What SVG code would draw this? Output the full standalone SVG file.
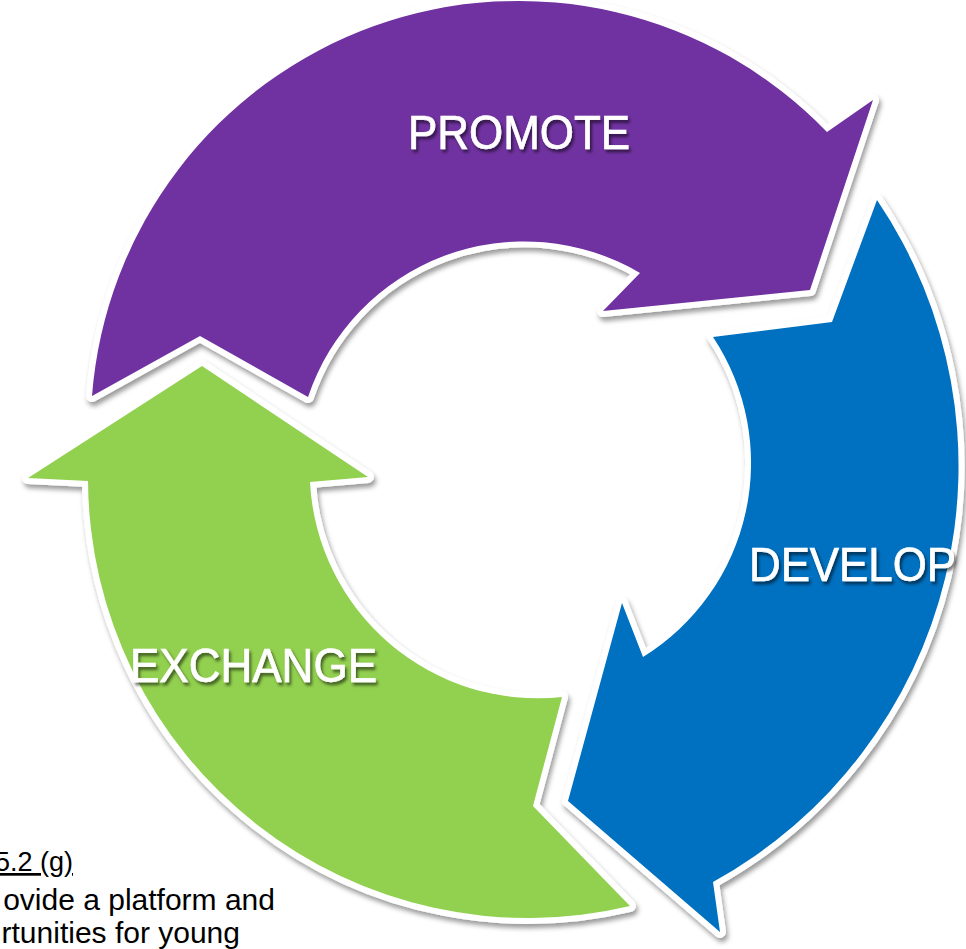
<svg xmlns="http://www.w3.org/2000/svg" width="966" height="949" viewBox="0 0 966 949">
<defs>
<filter id="sh" x="-10%" y="-10%" width="120%" height="120%">
<feDropShadow dx="2" dy="4" stdDeviation="2.5" flood-color="#000" flood-opacity="0.4"/>
</filter>
<filter id="tsh" x="-10%" y="-20%" width="120%" height="140%">
<feDropShadow dx="2" dy="3" stdDeviation="1.8" flood-color="#000" flood-opacity="0.55"/>
</filter>
<style>
.arrow{stroke:#fff;stroke-width:12;stroke-linejoin:round;paint-order:stroke;filter:url(#sh)}
.lbl{font-family:"Liberation Sans",Arial,sans-serif;font-size:49px;fill:#fff;stroke:#fff;stroke-width:0.7;filter:url(#tsh)}
.body{font-family:"Liberation Sans",Arial,sans-serif;fill:#000}
</style>
</defs>
<rect width="966" height="949" fill="#fff"/>
<g id="promote">
<path class="arrow" fill="#7030A0" d="M92,396 A428,428 0 0 1 827,132 L873,100 L810,290 L603,311 L640,273 A228,228 0 0 0 308,397 L200,336 Z"/>
<text class="lbl" x="408" y="149" textLength="222" lengthAdjust="spacingAndGlyphs">PROMOTE</text>
</g>
<g id="develop">
<path class="arrow" fill="#0070C0" d="M568,801 L622,603 L643,657 A228,228 0 0 0 713,337 L832,322 L877,200 A475,475 0 0 1 713,882 L720,932 Z"/>
<text class="lbl" x="749" y="581" textLength="207" lengthAdjust="spacingAndGlyphs">DEVELOP</text>
</g>
<g id="exchange">
<path class="arrow" fill="#92D050" d="M202,366 L368,477 L310,482 A228,228 0 0 0 562,697 L533,806 L630,906 A440,440 0 0 1 88,481 L28,478 Z"/>
<text class="lbl" x="130" y="682" textLength="247" lengthAdjust="spacingAndGlyphs">EXCHANGE</text>
</g>
<g id="note">
<text class="body" x="73" y="871" font-size="27" text-anchor="end" text-decoration="underline">5.2 (g)</text>
<text class="body" x="275" y="910" font-size="30" text-anchor="end">ovide a platform and</text>
<text class="body" x="240" y="943" font-size="30" text-anchor="end">rtunities for young</text>
</g>
<g id="connectors"/>
</svg>
